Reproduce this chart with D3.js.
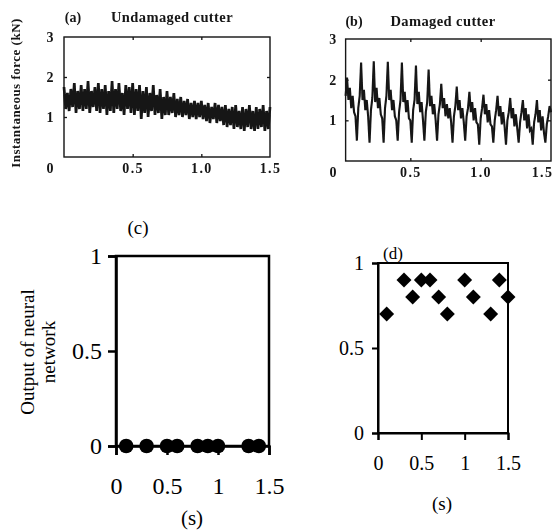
<!DOCTYPE html>
<html>
<head>
<meta charset="utf-8">
<script src="https://cdn.jsdelivr.net/npm/d3@7"></script>
<style>
  body { margin: 0; background: #fff; }
</style>
</head>
<body>
<div id="viz-container"></div>
<script>

// (a) undamaged cutter, force in kN, one sample every 0.0125 s from t = 0
let stepA = 0.0125;
let forceA = [
  1.75,1.2,1.6,1.15,1.7,1.25,1.85,1.1,1.65,1.2,1.8,1.15,1.7,1.2,1.9,1.1,1.65,1.25,1.75,1.15,
  1.85,1.1,1.7,1.2,1.8,1.05,1.65,1.15,1.9,1.1,1.7,1.2,1.85,1.15,1.6,1.05,1.8,1.2,1.75,1.1,
  1.85,1.05,1.7,1.15,1.8,0.95,1.65,1.1,1.75,1.0,1.6,1.15,1.8,1.05,1.55,1.1,1.7,0.95,1.5,1.05,
  1.65,1.05,1.5,1.1,1.6,1.0,1.45,1.05,1.5,1.0,1.4,1.05,1.45,0.95,1.35,1.0,1.4,0.95,1.35,1.0,
  1.4,0.95,1.3,0.9,1.35,0.85,1.25,0.95,1.35,0.85,1.3,0.9,1.25,0.8,1.3,0.75,1.2,0.8,1.25,0.7,
  1.3,0.75,1.15,0.7,1.25,0.65,1.2,0.75,1.3,0.7,1.15,0.65,1.25,0.7,1.2,0.75,1.3,0.65,1.15,0.7,1.25
];

// (b) damaged cutter, force in kN, one sample every 0.01 s from t = 0.04
let startB = 0.04;
let stepB = 0.01;
let forceB = [
  1.6,2.05,1.5,1.8,1.3,1.6,1.2,1.1,
  0.5,1.3,1.6,2.42,1.5,1.75,1.25,1.5,1.1,
  0.45,1.25,1.55,2.45,1.45,1.8,1.3,1.55,1.15,1.05,
  0.45,1.3,1.6,2.44,1.5,1.75,1.25,1.5,1.1,1.0,
  0.5,1.2,1.5,2.42,1.45,1.7,1.2,1.5,1.05,1.0,
  0.45,1.25,1.5,2.35,1.4,1.7,1.2,1.45,1.0,
  0.5,1.2,1.45,2.25,1.35,1.6,1.15,1.4,1.0,
  0.5,1.15,1.4,1.9,1.3,1.55,1.1,1.4,1.05,1.3,0.95,
  0.45,1.1,1.35,1.83,1.25,1.5,1.05,1.3,0.95,
  0.5,1.1,1.3,1.7,1.2,1.45,1.0,1.3,0.95,0.9,
  0.4,1.05,1.3,1.63,1.15,1.4,0.95,1.25,0.9,0.85,
  0.45,1.0,1.25,1.6,1.1,1.35,0.9,1.2,0.85,
  0.4,1.0,1.2,1.55,1.05,1.3,0.85,1.15,0.8,
  0.45,0.95,1.2,1.5,1.0,1.3,0.8,1.15,0.75,0.8,
  0.4,0.95,1.15,1.5,0.95,1.25,0.75,1.1,0.7,
  0.45,0.9,1.1,1.35,1.2
];

let timeTicks = [0.5, 1.0, 1.5];
let forceTicks = [1, 2, 3];

// (c) / (d) output of the neural network
let timesC = [0.1, 0.3, 0.5, 0.6, 0.8, 0.9, 1.0, 1.3, 1.4];
let outputC = [0, 0, 0, 0, 0, 0, 0, 0, 0];
let timesD = [0.1, 0.3, 0.4, 0.5, 0.6, 0.7, 0.8, 1.0, 1.1, 1.3, 1.4, 1.5];
let outputD = [0.7, 0.9, 0.8, 0.9, 0.9, 0.8, 0.7, 0.9, 0.8, 0.7, 0.9, 0.8];
let outTicksX = [0, 0.5, 1, 1.5];
let outTicksY = [0, 0.5, 1];


let viz = d3.select("#viz-container")
              .append("svg")
                .attr("width", 555)
                .attr("height", 530)
;

viz.append("defs").append("filter")
    .attr("id", "scan")
  .append("feGaussianBlur")
    .attr("stdDeviation", 0.45);

let ink = "#141414";
let serif = "'Liberation Serif', 'Times New Roman', serif";

// top row: scanned force plots
function forcePanel(opts){
  let g = viz.append("g").attr("filter", "url(#scan)");
  let x = d3.scaleLinear().domain([0, 1.5]).range(opts.xr);
  let y = d3.scaleLinear().domain([0, 3]).range(opts.yr);
  let x0 = x(opts.t0);

  g.append("rect")
      .attr("x", x0)
      .attr("y", y(3))
      .attr("width", x(1.5) - x0)
      .attr("height", y(0) - y(3))
      .attr("fill", "none")
      .attr("stroke", ink)
      .attr("stroke-width", 1.4);

  // small inner ticks
  let inner = [
    [d3.axisBottom(x).tickValues([0.5, 1]), 0, y(3)],
    [d3.axisTop(x).tickValues([0.5, 1]), 0, y(0)],
    [d3.axisRight(y).tickValues([1, 2]), x0, 0],
    [d3.axisLeft(y).tickValues([1, 2]), x(1.5), 0]
  ];
  inner.forEach(function(a){
    let t = g.append("g")
        .attr("transform", "translate(" + a[1] + "," + a[2] + ")")
        .call(a[0].tickSize(3).tickFormat(""));
    t.select(".domain").remove();
    t.selectAll("line").attr("stroke", ink).attr("stroke-width", 1.3);
  });

  let line = d3.line()
      .x(function(d, i){ return x(opts.start + i * opts.step); })
      .y(function(d){ return y(d); });

  g.append("path")
      .datum(opts.values)
      .attr("d", line)
      .attr("fill", "none")
      .attr("stroke", ink)
      .attr("stroke-width", opts.lw)
      .attr("stroke-linejoin", "miter");

  let ax = g.append("g")
      .attr("transform", "translate(0," + y(0) + ")")
      .call(d3.axisBottom(x).tickValues(timeTicks).tickFormat(d3.format(".1f")).tickSize(0).tickPadding(opts.padX));
  let ay = g.append("g")
      .attr("transform", "translate(" + x0 + ",0)")
      .call(d3.axisLeft(y).tickValues(forceTicks).tickFormat(d3.format("d")).tickSize(0).tickPadding(opts.padY));
  [ax, ay].forEach(function(a){
    a.select(".domain").remove();
    a.selectAll("text")
        .attr("fill", ink)
        .style("font-family", serif)
        .style("font-weight", "bold")
        .style("font-size", "14px")
        .style("letter-spacing", "1.4px");
  });

  // keep the last time label inside the page
  ax.selectAll(".tick").filter(function(d){ return d === 1.5; }).select("text")
      .attr("dx", opts.lastShift);

  // shared zero at the corner
  g.append("text")
      .attr("x", opts.zero[0])
      .attr("y", opts.zero[1])
      .attr("text-anchor", "middle")
      .attr("dy", "0.35em")
      .attr("fill", ink)
      .style("font-family", serif)
      .style("font-weight", "bold")
      .style("font-size", "14px")
      .text("0");

  g.append("text")
      .attr("x", opts.tag[0])
      .attr("y", opts.tag[1])
      .attr("text-anchor", "middle")
      .attr("dy", "0.35em")
      .attr("fill", ink)
      .style("font-family", serif)
      .style("font-weight", "bold")
      .style("font-size", "14px")
      .text(opts.tagText);

  g.append("text")
      .attr("x", opts.title[0])
      .attr("y", opts.title[1])
      .attr("text-anchor", "middle")
      .attr("dy", "0.35em")
      .attr("fill", ink)
      .style("font-family", serif)
      .style("font-weight", "bold")
      .style("font-size", "14.5px")
      .style("letter-spacing", "0.4px")
      .text(opts.titleText);

  return g;
}

let ga = forcePanel({
  values: forceA, start: 0, step: stepA, t0: 0, lw: 2.7,
  xr: [64, 270], yr: [157, 37],
  padX: 6, padY: 9, lastShift: 0,
  zero: [50, 168],
  tag: [73, 17], tagText: "(a)",
  title: [172, 17], titleText: "Undamaged cutter"
});

ga.append("text")
    .attr("transform", "translate(15,93) rotate(-90)")
    .attr("text-anchor", "middle")
    .attr("dy", "0.35em")
    .attr("fill", ink)
    .style("font-family", serif)
    .style("font-weight", "bold")
    .style("font-size", "13px")
    .style("letter-spacing", "0.5px")
    .text("Instantaneous force (kN)");

forcePanel({
  values: forceB, start: startB, step: stepB, t0: startB, lw: 2.1,
  xr: [340, 551], yr: [161, 39],
  padX: 6, padY: 8, lastShift: -9,
  zero: [333, 172],
  tag: [354, 21], tagText: "(b)",
  title: [443, 21], titleText: "Damaged cutter"
});


// bottom row: neural network output
function outputPanel(opts){
  let g = viz.append("g");
  let x = d3.scaleLinear().domain([0, 1.5]).range(opts.xr);
  let y = d3.scaleLinear().domain([0, 1]).range(opts.yr);

  g.append("rect")
      .attr("x", x(0))
      .attr("y", y(1))
      .attr("width", x(1.5) - x(0))
      .attr("height", y(0) - y(1))
      .attr("fill", "none")
      .attr("stroke", "#000")
      .attr("stroke-width", opts.sw);

  let ax = g.append("g")
      .attr("transform", "translate(0," + y(0) + ")")
      .call(d3.axisBottom(x).tickValues(outTicksX).tickFormat(d3.format("")).tickSize(opts.tickX).tickPadding(opts.padX));
  let ay = g.append("g")
      .attr("transform", "translate(" + x(0) + ",0)")
      .call(d3.axisLeft(y).tickValues(outTicksY).tickFormat(d3.format("")).tickSize(opts.tickY).tickPadding(opts.padY));
  [ax, ay].forEach(function(a){
    a.select(".domain").attr("stroke", "#000").attr("stroke-width", opts.sw);
    a.selectAll("line").attr("stroke", "#000").attr("stroke-width", opts.sw);
    a.selectAll("text")
        .attr("fill", "#000")
        .style("font-family", serif)
        .style("font-size", opts.fs + "px");
  });

  g.append("text")
      .attr("x", opts.unit[0])
      .attr("y", opts.unit[1])
      .attr("text-anchor", "middle")
      .attr("dy", "0.35em")
      .style("font-family", serif)
      .style("font-size", opts.unitFs + "px")
      .text("(s)");

  g.append("text")
      .attr("x", opts.tag[0])
      .attr("y", opts.tag[1])
      .attr("text-anchor", "middle")
      .attr("dy", "0.35em")
      .style("font-family", serif)
      .style("font-size", opts.tagFs + "px")
      .text(opts.tagText);

  return {g: g, x: x, y: y};
}

let pc = outputPanel({
  xr: [116, 269], yr: [446, 256], sw: 2.5,
  tickX: 9, padX: 22, tickY: 8, padY: 6, fs: 24,
  unit: [192, 518], unitFs: 21,
  tag: [138, 227], tagFs: 19, tagText: "(c)"
});

pc.g.selectAll("circle").data(timesC).enter().append("circle")
    .attr("cx", function(d){ return pc.x(d); })
    .attr("cy", function(d, i){ return pc.y(outputC[i]); })
    .attr("r", 7.3)
    .attr("fill", "#000");

let ylab = pc.g.append("text")
    .attr("transform", "translate(37,352) rotate(-90)")
    .attr("text-anchor", "middle")
    .style("font-family", serif)
    .style("font-size", "19px");
ylab.append("tspan").attr("x", 0).attr("y", -10).attr("dy", "0.35em").text("Output of neural");
ylab.append("tspan").attr("x", 0).attr("y", 11).attr("dy", "0.35em").text("network");

let pd = outputPanel({
  xr: [378, 508], yr: [433, 263], sw: 2,
  tickX: 7, padX: 16, tickY: 6, padY: 8, fs: 20,
  unit: [442, 503], unitFs: 19,
  tag: [393, 253], tagFs: 17, tagText: "(d)"
});

pd.g.selectAll("path.pt").data(timesD).enter().append("path")
    .attr("class", "pt")
    .attr("d", d3.symbol().type(d3.symbolSquare).size(112))
    .attr("transform", function(d, i){
      return "translate(" + pd.x(d) + "," + pd.y(outputD[i]) + ") rotate(45)";
    })
    .attr("fill", "#000");

</script>
</body>
</html>
